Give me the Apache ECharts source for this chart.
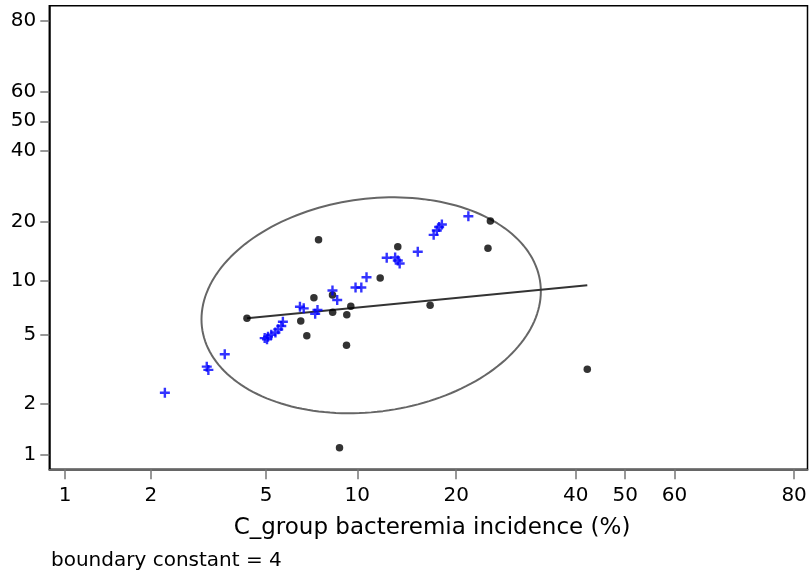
<!DOCTYPE html>
<html>
<head>
<meta charset="utf-8">
<script src="https://cdn.jsdelivr.net/npm/echarts@6/dist/echarts.min.js"></script>
<style>
html,body{margin:0;padding:0;background:#fff;}
#chart{width:809px;height:573px;}
</style>
</head>
<body>
<div id="chart"></div>
<script>
// ---- data (percent values) ----
var blueX = [2.24,3.13,3.17,3.61,4.94,5.03,5.07,5.20,5.37,5.49,5.62,5.69,6.49,6.68,7.29,7.42,8.31,8.61,9.87,10.30,10.70,12.39,13.16,13.41,13.59,15.43,17.21,17.58,17.86,18.19,21.65];
var blueY = [2.32,3.29,3.15,3.88,4.80,4.72,4.89,5.01,5.16,5.38,5.62,5.94,7.21,7.06,6.59,6.91,8.85,7.85,9.19,9.19,10.44,13.23,13.27,12.80,12.35,14.22,17.30,18.17,18.89,19.43,21.28];
var blackX = [4.30,6.53,6.84,7.22,7.48,8.31,8.32,8.76,9.25,9.23,9.53,11.82,13.41,16.80,24.5,24.87,42.3];
var blackY = [6.21,6.00,4.95,8.08,16.34,8.36,6.72,1.10,6.50,4.37,7.26,10.34,15.09,7.34,14.81,20.2,3.18];
var fitLineX = [4.30, 42.3];
var fitLineY = [6.21, 9.45];
var xTicks = [1,2,5,10,20,40,50,60,80];
var yTicks = [1,2,5,10,20,40,50,60,80];
var xRange = [0.88, 81.7];
var yRange = [0.82, 83.1];
// boundary ellipse (bivariate boxplot fence), centre in %, spreads in logit units
var ellipseCenter = [11.07, 7.34];
var ellipseSX = 1.392, ellipseSY = 1.488, ellipseRho = 0.13;

function logit(p){ p = p/100; return Math.log(p/(1-p)); }
function invLogit(l){ return 100/(1+Math.exp(-l)); }

function pairs(xs, ys){ return xs.map(function(x,i){ return [logit(x), logit(ys[i])]; }); }

var ell = [];
var cx = logit(ellipseCenter[0]), cy = logit(ellipseCenter[1]);
var s = Math.sqrt(1-ellipseRho*ellipseRho);
for (var k=0;k<=180;k++){
  var t = k/180*2*Math.PI;
  ell.push([cx + ellipseSX*Math.cos(t), cy + ellipseSY*(ellipseRho*Math.cos(t) + s*Math.sin(t))]);
}

var FONT = 'DejaVu Sans';
var plusPath = 'path://M3.8,0h2.4v3.8h3.8v2.4h-3.8v3.8h-2.4v-3.8h-3.8v-2.4h3.8z';

var chart = echarts.init(document.getElementById('chart'), null, {renderer:'canvas'});
chart.setOption({
  animation:false,
  backgroundColor:'#fff',
  grid:{left:49.3, right:1.5, top:5.7, bottom:103.7, show:true, borderColor:'#000', borderWidth:1.5, containLabel:false, outerBoundsMode:'none'},
  xAxis:{
    type:'value', min:logit(xRange[0]), max:logit(xRange[1]),
    splitLine:{show:false},
    axisLine:{show:true, onZero:false, lineStyle:{color:'#666', width:2}},
    axisTick:{show:true, length:10, customValues:xTicks.map(logit), lineStyle:{color:'#777', width:1.5}},
    axisLabel:{show:true, customValues:xTicks.map(logit), margin:16, color:'#000', fontFamily:FONT, fontSize:20,
      formatter:function(v){ return String(Math.round(invLogit(v))); }}
  },
  yAxis:{
    type:'value', min:logit(yRange[0]), max:logit(yRange[1]),
    splitLine:{show:false},
    axisLine:{show:true, onZero:false, lineStyle:{color:'#000', width:1.5}},
    axisTick:{show:true, length:9, customValues:yTicks.map(logit), lineStyle:{color:'#777', width:1.5}},
    axisLabel:{show:true, customValues:yTicks.map(logit), margin:13, color:'#000', fontFamily:FONT, fontSize:20,
      formatter:function(v){ return String(Math.round(invLogit(v))); }}
  },
  graphic:[
    {type:'text', x:432, y:528, style:{text:'C_group bacteremia incidence (%)', fill:'#000', font:'23px "DejaVu Sans"', textAlign:'center', textVerticalAlign:'middle'}},
    {type:'text', x:51, y:561, style:{text:'boundary constant = 4', fill:'#000', font:'20px "DejaVu Sans"', textAlign:'left', textVerticalAlign:'middle'}}
  ],
  series:[
    {type:'line', data:ell, showSymbol:false, symbol:'none', lineStyle:{color:'#666', width:2}, z:2, silent:true},
    {type:'line', data:pairs(fitLineX, fitLineY), showSymbol:false, symbol:'none', lineStyle:{color:'#333', width:2}, z:3, silent:true},
    {type:'scatter', data:pairs(blackX, blackY), symbol:'circle', symbolSize:7.5, itemStyle:{color:'#000'}, z:4},
    {type:'scatter', data:pairs(blueX, blueY), symbol:plusPath, symbolSize:10, itemStyle:{color:'#0000ff'}, z:5}
  ]
});
</script>
</body>
</html>
